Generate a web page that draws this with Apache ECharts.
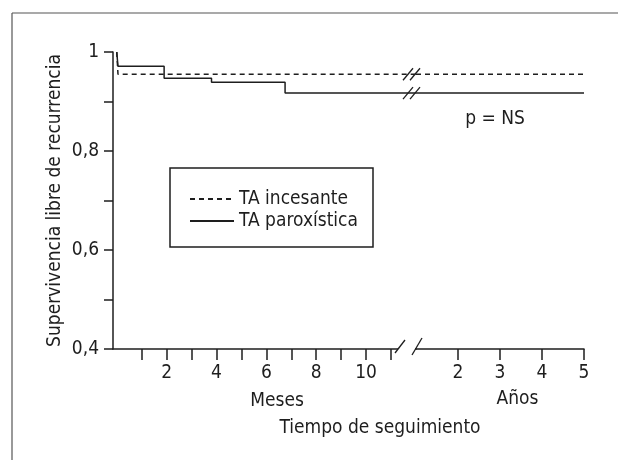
<!DOCTYPE html>
<html>
<head>
<meta charset="utf-8">
<script src="https://cdn.jsdelivr.net/npm/echarts@6/dist/echarts.min.js"></script>
<style>
html,body{margin:0;padding:0;background:#fff;}
#c{width:618px;height:460px;}
</style>
</head>
<body>
<div id="c"></div>
<script>
function fontAvailable(name) {
  const c = document.createElement('canvas').getContext('2d');
  const s = 'Supervivencia libre 0123 WMim';
  let res = false;
  ['monospace', 'serif'].forEach(g => {
    c.font = '40px ' + g; const a = c.measureText(s).width;
    c.font = '40px "' + name + '", ' + g; const b = c.measureText(s).width;
    if (Math.abs(a - b) > 0.5) res = true;
  });
  return res;
}
const hasCond = fontAvailable('DejaVu Sans Condensed');
const FONT = hasCond ? '"DejaVu Sans Condensed", "Liberation Sans", sans-serif' : '"Liberation Sans", sans-serif';
const SZ = hasCond ? 19 : 18;
const INK = '#1e1e1e';

// ---- data ----
const seriesNames = ['TA incesante', 'TA paroxística'];
// months part: step values after each event (months 0..12)
const incesanteMonths = [0, 0.05, 12];
const incesanteMonthSurv = [1, 0.955, 0.955];
const paroxMonths = [0, 0.05, 1.9, 3.8, 6.75, 12];
const paroxMonthSurv = [1, 0.971, 0.947, 0.939, 0.917, 0.917];
// years part (1..5 years)
const incesanteYears = [1, 5];
const incesanteYearSurv = [0.955, 0.955];
const paroxYears = [1, 5];
const paroxYearSurv = [0.917, 0.917];

// ticks / labels / texts
const yTicks = [0.4, 0.5, 0.6, 0.7, 0.8, 0.9, 1];
const yLabels = [0.4, 0.6, 0.8, 1];
const monthTicks = [1, 2, 3, 4, 5, 6, 7, 8, 9, 10, 11];
const monthLabels = [2, 4, 6, 8, 10];
const yearTicks = [2, 3, 4, 5];
const monthAxisTitle = 'Meses';
const yearAxisTitle = 'Años';
const xTitle = 'Tiempo de seguimiento';
const yTitle = 'Supervivencia libre de recurrencia';
const pText = 'p = NS';

const zip = (xs, ys) => xs.map((x, i) => [x, ys[i]]);
const chart = echarts.init(document.getElementById('c'), null, {renderer: 'canvas'});

const axisLineStyle = {color: INK, width: 1.5};
const labelStyle = {fontFamily: FONT, fontSize: SZ, color: INK};
const dashed = {color: INK, width: 1.5, type: [5, 4]};
const solid = {color: INK, width: 1.5, type: 'solid'};

function lineSeries(name, xi, data, ls) {
  return {
    name: name, type: 'line', xAxisIndex: xi, yAxisIndex: xi,
    step: 'end', data: data, symbol: 'none', showSymbol: false,
    lineStyle: ls, itemStyle: {color: INK}, silent: true, z: 3
  };
}

const option = {
  animation: false,
  backgroundColor: '#fff',
  grid: [
    {left: 113, top: 52, width: 303, height: 297},
    {left: 416, top: 52, width: 168, height: 297}
  ],
  xAxis: [
    {
      type: 'value', gridIndex: 0, min: -0.15, max: 12,
      axisLine: {show: true, onZero: false, lineStyle: axisLineStyle},
      axisTick: {show: true, length: 11, customValues: monthTicks, lineStyle: axisLineStyle},
      axisLabel: {show: true, margin: 15, customValues: monthLabels, ...labelStyle},
      splitLine: {show: false},
      name: monthAxisTitle, nameLocation: 'middle', nameGap: 43,
      nameTextStyle: {fontFamily: FONT, fontSize: SZ, color: INK, padding: [0, 0, 0, 25]}
    },
    {
      type: 'value', gridIndex: 1, min: 1, max: 5,
      axisLine: {show: true, onZero: false, lineStyle: axisLineStyle},
      axisTick: {show: true, length: 11, customValues: yearTicks, lineStyle: axisLineStyle},
      axisLabel: {show: true, margin: 15, customValues: yearTicks, ...labelStyle},
      splitLine: {show: false},
      name: yearAxisTitle, nameLocation: 'middle', nameGap: 41,
      nameTextStyle: {fontFamily: FONT, fontSize: SZ, color: INK, padding: [0, 0, 0, 35]}
    }
  ],
  yAxis: [
    {
      type: 'value', gridIndex: 0, min: 0.4, max: 1,
      axisLine: {show: true, onZero: false, lineStyle: axisLineStyle},
      axisTick: {show: true, length: 9, customValues: yTicks, lineStyle: axisLineStyle},
      axisLabel: {
        show: true, margin: 14, customValues: yLabels, ...labelStyle,
        formatter: v => (v === 1 ? '1' : v.toFixed(1).replace('.', ','))
      },
      splitLine: {show: false},
      name: yTitle, nameLocation: 'middle', nameGap: 48, nameRotate: 90,
      nameTextStyle: {fontFamily: FONT, fontSize: SZ, color: INK}
    },
    {type: 'value', gridIndex: 1, min: 0.4, max: 1, show: false}
  ],
  legend: {
    data: seriesNames, orient: 'vertical', left: 189, top: 188, padding: 0,
    itemWidth: 44, itemHeight: 14, itemGap: 0, selectedMode: false,
    itemStyle: {opacity: 0, borderWidth: 0},
    textStyle: {fontFamily: FONT, fontSize: SZ, color: INK, lineHeight: 22}
  },
  series: [
    lineSeries(seriesNames[0], 0, zip(incesanteMonths, incesanteMonthSurv), dashed),
    lineSeries(seriesNames[0], 1, zip(incesanteYears, incesanteYearSurv), dashed),
    lineSeries(seriesNames[1], 0, zip(paroxMonths, paroxMonthSurv), solid),
    lineSeries(seriesNames[1], 1, zip(paroxYears, paroxYearSurv), solid)
  ]
};
chart.setOption(option);

// decorations: frame, legend box, free texts, axis breaks
const x0 = chart.convertToPixel({xAxisIndex: 0}, 12);
const yAx = chart.convertToPixel({yAxisIndex: 0}, 0.4);
const yDash = chart.convertToPixel({yAxisIndex: 0}, incesanteYearSurv[0]);
const ySol = chart.convertToPixel({yAxisIndex: 0}, paroxYearSurv[0]);
const stroke = {stroke: INK, lineWidth: 1.3};
function slash(xa, ya, xb, yb) {
  return {type: 'line', z: 100, silent: true, shape: {x1: xa, y1: ya, x2: xb, y2: yb}, style: stroke};
}
const elements = [
  {type: 'line', z: 100, silent: true, shape: {x1: 12, y1: 13, x2: 618, y2: 13}, style: {stroke: '#555', lineWidth: 1.2}},
  {type: 'line', z: 100, silent: true, shape: {x1: 12, y1: 13, x2: 12, y2: 460}, style: {stroke: '#555', lineWidth: 1.2}},
  {type: 'rect', z: 100, silent: true, shape: {x: 170, y: 168, width: 203, height: 79}, style: {fill: 'none', stroke: INK, lineWidth: 1.5}},
  {type: 'text', z: 100, silent: true, x: 495, y: 119, style: {text: pText, fontFamily: FONT, fontSize: SZ, fill: INK, align: 'center', verticalAlign: 'middle'}},
  {type: 'text', z: 100, silent: true, x: 380, y: 428, style: {text: xTitle, fontFamily: FONT, fontSize: SZ, fill: INK, align: 'center', verticalAlign: 'middle'}},
  {type: 'rect', z: 99, silent: true, shape: {x: x0 - 18, y: yAx - 3, width: 17, height: 6}, style: {fill: '#fff'}},
  slash(x0 - 21, yAx + 4, x0 - 11, yAx - 9),
  slash(x0 - 4, yAx + 6, x0 + 6, yAx - 11),
  slash(x0 - 13, yDash + 6, x0 - 3, yDash - 6),
  slash(x0 - 6, yDash + 6, x0 + 4, yDash - 6),
  slash(x0 - 13, ySol + 6, x0 - 3, ySol - 6),
  slash(x0 - 6, ySol + 6, x0 + 4, ySol - 6)
];
chart.setOption({graphic: {elements: elements}});
</script>
</body>
</html>
